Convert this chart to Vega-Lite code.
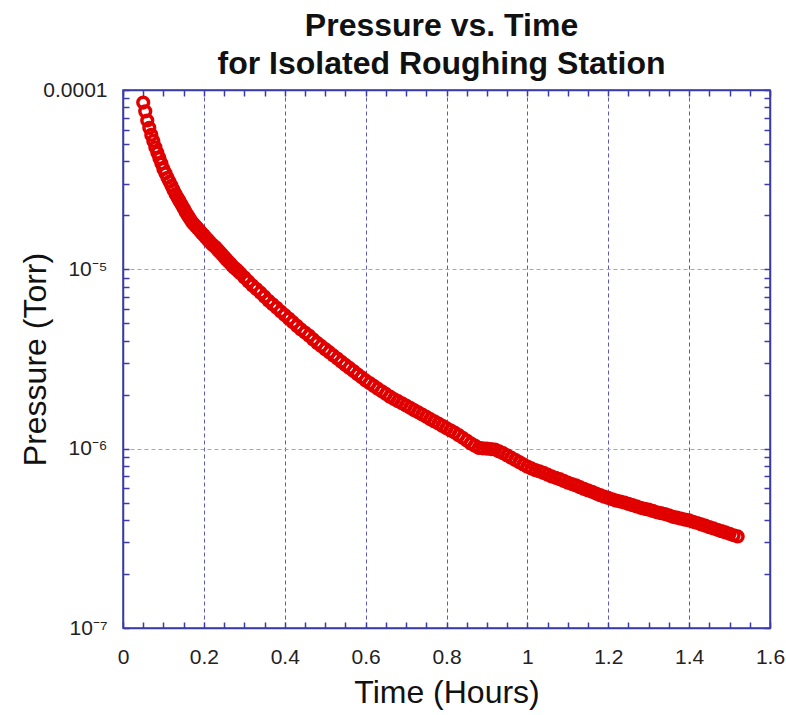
{
  "$schema": "https://vega.github.io/schema/vega-lite/v6.json",
  "width": 647,
  "height": 538,
  "autosize": {"type": "none"},
  "padding": {"left": 123, "top": 90, "right": 16, "bottom": 87},
  "background": "white",
  "config": {"view": {"stroke": "#3b3ba8", "strokeWidth": 1.5}, "font": "Liberation Sans"},
  "title": {
    "text": ["Pressure vs. Time", "for Isolated Roughing Station"],
    "font": "Liberation Sans Narrow, Liberation Sans",
    "fontSize": 32,
    "fontWeight": "bold",
    "color": "#111111",
    "anchor": "middle",
    "lineHeight": 38,
    "offset": -2,
    "dx": -5
  },
  "data": {"values": [
    {"t": 0.05, "p": 8.51e-5}, {"t": 0.055, "p": 7.6e-5}, {"t": 0.06, "p": 6.76e-5}, {"t": 0.065, "p": 6.15e-5},
    {"t": 0.07, "p": 5.62e-5}, {"t": 0.075, "p": 5.2e-5}, {"t": 0.08, "p": 4.79e-5}, {"t": 0.085, "p": 4.47e-5},
    {"t": 0.09, "p": 4.17e-5}, {"t": 0.095, "p": 3.89e-5}, {"t": 0.10, "p": 3.63e-5}, {"t": 0.105, "p": 3.43e-5},
    {"t": 0.11, "p": 3.24e-5}, {"t": 0.115, "p": 3.08e-5}, {"t": 0.12, "p": 2.92e-5}, {"t": 0.125, "p": 2.77e-5},
    {"t": 0.13, "p": 2.63e-5}, {"t": 0.135, "p": 2.51e-5}, {"t": 0.14, "p": 2.40e-5}, {"t": 0.145, "p": 2.29e-5},
    {"t": 0.15, "p": 2.19e-5}, {"t": 0.155, "p": 2.09e-5}, {"t": 0.16, "p": 2.00e-5}, {"t": 0.165, "p": 1.92e-5},
    {"t": 0.17, "p": 1.84e-5}, {"t": 0.175, "p": 1.79e-5}, {"t": 0.18, "p": 1.74e-5}, {"t": 0.185, "p": 1.69e-5},
    {"t": 0.19, "p": 1.64e-5}, {"t": 0.195, "p": 1.59e-5}, {"t": 0.20, "p": 1.55e-5}, {"t": 0.205, "p": 1.50e-5},
    {"t": 0.21, "p": 1.46e-5}, {"t": 0.215, "p": 1.42e-5}, {"t": 0.22, "p": 1.38e-5}, {"t": 0.225, "p": 1.35e-5},
    {"t": 0.23, "p": 1.32e-5}, {"t": 0.235, "p": 1.28e-5}, {"t": 0.24, "p": 1.245e-5}, {"t": 0.245, "p": 1.21e-5},
    {"t": 0.25, "p": 1.175e-5}, {"t": 0.255, "p": 1.14e-5}, {"t": 0.26, "p": 1.109e-5}, {"t": 0.265, "p": 1.08e-5},
    {"t": 0.27, "p": 1.047e-5}, {"t": 0.275, "p": 1.02e-5}, {"t": 0.28, "p": 1.00e-5}, {"t": 0.285, "p": 9.75e-6},
    {"t": 0.29, "p": 9.5e-6}, {"t": 0.30, "p": 9.02e-6}, {"t": 0.31, "p": 8.56e-6}, {"t": 0.32, "p": 8.13e-6},
    {"t": 0.33, "p": 7.76e-6}, {"t": 0.34, "p": 7.41e-6}, {"t": 0.35, "p": 7.04e-6}, {"t": 0.36, "p": 6.68e-6},
    {"t": 0.37, "p": 6.38e-6}, {"t": 0.38, "p": 6.10e-6}, {"t": 0.39, "p": 5.82e-6}, {"t": 0.40, "p": 5.56e-6},
    {"t": 0.41, "p": 5.31e-6}, {"t": 0.42, "p": 5.07e-6}, {"t": 0.43, "p": 4.84e-6}, {"t": 0.44, "p": 4.62e-6},
    {"t": 0.45, "p": 4.44e-6}, {"t": 0.46, "p": 4.27e-6}, {"t": 0.47, "p": 4.07e-6}, {"t": 0.48, "p": 3.89e-6},
    {"t": 0.49, "p": 3.74e-6}, {"t": 0.50, "p": 3.59e-6}, {"t": 0.51, "p": 3.45e-6}, {"t": 0.52, "p": 3.31e-6},
    {"t": 0.53, "p": 3.18e-6}, {"t": 0.54, "p": 3.05e-6}, {"t": 0.55, "p": 2.93e-6}, {"t": 0.56, "p": 2.82e-6},
    {"t": 0.57, "p": 2.71e-6}, {"t": 0.58, "p": 2.60e-6}, {"t": 0.59, "p": 2.50e-6}, {"t": 0.60, "p": 2.40e-6},
    {"t": 0.61, "p": 2.32e-6}, {"t": 0.62, "p": 2.24e-6}, {"t": 0.63, "p": 2.16e-6}, {"t": 0.64, "p": 2.09e-6},
    {"t": 0.65, "p": 2.02e-6}, {"t": 0.66, "p": 1.95e-6}, {"t": 0.67, "p": 1.89e-6}, {"t": 0.68, "p": 1.84e-6},
    {"t": 0.69, "p": 1.79e-6}, {"t": 0.70, "p": 1.74e-6}, {"t": 0.71, "p": 1.69e-6}, {"t": 0.72, "p": 1.64e-6},
    {"t": 0.73, "p": 1.595e-6}, {"t": 0.74, "p": 1.55e-6}, {"t": 0.75, "p": 1.505e-6}, {"t": 0.76, "p": 1.46e-6},
    {"t": 0.77, "p": 1.42e-6}, {"t": 0.78, "p": 1.38e-6}, {"t": 0.79, "p": 1.34e-6}, {"t": 0.80, "p": 1.30e-6},
    {"t": 0.81, "p": 1.265e-6}, {"t": 0.82, "p": 1.23e-6}, {"t": 0.83, "p": 1.19e-6}, {"t": 0.84, "p": 1.15e-6},
    {"t": 0.85, "p": 1.11e-6}, {"t": 0.86, "p": 1.07e-6}, {"t": 0.87, "p": 1.04e-6}, {"t": 0.88, "p": 1.01e-6},
    {"t": 0.89, "p": 1.005e-6}, {"t": 0.90, "p": 1.00e-6}, {"t": 0.91, "p": 9.95e-7}, {"t": 0.92, "p": 9.89e-7},
    {"t": 0.93, "p": 9.66e-7}, {"t": 0.94, "p": 9.44e-7}, {"t": 0.95, "p": 9.17e-7}, {"t": 0.96, "p": 8.91e-7},
    {"t": 0.97, "p": 8.66e-7}, {"t": 0.98, "p": 8.41e-7}, {"t": 0.99, "p": 8.17e-7}, {"t": 1.00, "p": 7.94e-7},
    {"t": 1.01, "p": 7.76e-7}, {"t": 1.02, "p": 7.59e-7}, {"t": 1.03, "p": 7.46e-7}, {"t": 1.04, "p": 7.33e-7},
    {"t": 1.05, "p": 7.16e-7}, {"t": 1.06, "p": 7.00e-7}, {"t": 1.07, "p": 6.88e-7}, {"t": 1.08, "p": 6.76e-7},
    {"t": 1.09, "p": 6.61e-7}, {"t": 1.10, "p": 6.46e-7}, {"t": 1.11, "p": 6.35e-7}, {"t": 1.12, "p": 6.24e-7},
    {"t": 1.13, "p": 6.10e-7}, {"t": 1.14, "p": 5.96e-7}, {"t": 1.15, "p": 5.85e-7}, {"t": 1.16, "p": 5.75e-7},
    {"t": 1.17, "p": 5.62e-7}, {"t": 1.18, "p": 5.50e-7}, {"t": 1.19, "p": 5.40e-7}, {"t": 1.20, "p": 5.31e-7},
    {"t": 1.21, "p": 5.22e-7}, {"t": 1.22, "p": 5.13e-7}, {"t": 1.23, "p": 5.07e-7}, {"t": 1.24, "p": 5.01e-7},
    {"t": 1.25, "p": 4.92e-7}, {"t": 1.26, "p": 4.84e-7}, {"t": 1.27, "p": 4.76e-7}, {"t": 1.28, "p": 4.68e-7},
    {"t": 1.29, "p": 4.62e-7}, {"t": 1.30, "p": 4.57e-7}, {"t": 1.31, "p": 4.50e-7}, {"t": 1.32, "p": 4.42e-7},
    {"t": 1.33, "p": 4.37e-7}, {"t": 1.34, "p": 4.32e-7}, {"t": 1.35, "p": 4.25e-7}, {"t": 1.36, "p": 4.17e-7},
    {"t": 1.37, "p": 4.12e-7}, {"t": 1.38, "p": 4.07e-7}, {"t": 1.39, "p": 4.02e-7}, {"t": 1.40, "p": 3.98e-7},
    {"t": 1.41, "p": 3.91e-7}, {"t": 1.42, "p": 3.85e-7}, {"t": 1.43, "p": 3.78e-7}, {"t": 1.44, "p": 3.72e-7},
    {"t": 1.45, "p": 3.65e-7}, {"t": 1.46, "p": 3.59e-7}, {"t": 1.47, "p": 3.53e-7}, {"t": 1.48, "p": 3.47e-7},
    {"t": 1.49, "p": 3.41e-7}, {"t": 1.50, "p": 3.35e-7}, {"t": 1.51, "p": 3.29e-7}, {"t": 1.52, "p": 3.24e-7}
  ]},
  "layer": [
    {
      "mark": {"type": "point", "filled": false, "color": "#e00000", "size": 115, "strokeWidth": 3.5, "opacity": 1},
      "encoding": {
        "x": {
          "field": "t", "type": "quantitative",
          "scale": {"domain": [0, 1.6], "nice": false, "zero": false},
          "axis": {
            "orient": "bottom",
            "values": [0, 0.05, 0.1, 0.15, 0.2, 0.25, 0.3, 0.35, 0.4, 0.45, 0.5, 0.55, 0.6, 0.65, 0.7, 0.75, 0.8, 0.85, 0.9, 0.95, 1, 1.05, 1.1, 1.15, 1.2, 1.25, 1.3, 1.35, 1.4, 1.45, 1.5, 1.55, 1.6],
            "labelExpr": "abs(datum.value*5-round(datum.value*5))<0.001 ? format(datum.value, '~g') : ''",
            "labelFontSize": 21, "labelColor": "#222222", "labelPadding": 24, "labelFlush": false,
            "grid": true, "gridColor": "#5a5ab8", "gridDash": [4, 3], "gridWidth": 1,
            "gridOpacity": {"condition": {"test": "abs(datum.value*5-round(datum.value*5))<0.001 && datum.value>0.01 && datum.value<1.59", "value": 1}, "value": 0},
            "ticks": true, "tickSize": -6, "tickColor": "#3b3ba8", "tickWidth": 1.5,
            "domainColor": "#3b3ba8", "domainWidth": 1.5,
            "title": "Time (Hours)", "titleFontSize": 32, "titleFontWeight": "normal", "titleColor": "#111111",
            "titleBaseline": "alphabetic", "titleY": 74
          }
        },
        "y": {
          "field": "p", "type": "quantitative",
          "scale": {"type": "log", "domain": [1e-7, 1e-4], "nice": false},
          "axis": {
            "orient": "left",
            "values": [1e-7, 2e-7, 3e-7, 4e-7, 5e-7, 6e-7, 7e-7, 8e-7, 9e-7, 1e-6, 2e-6, 3e-6, 4e-6, 5e-6, 6e-6, 7e-6, 8e-6, 9e-6, 1e-5, 2e-5, 3e-5, 4e-5, 5e-5, 6e-5, 7e-5, 8e-5, 9e-5, 1e-4],
            "labelExpr": "abs(datum.value-1e-4)<1e-9 ? '0.0001' : abs(datum.value-1e-5)<1e-10 ? '10⁻⁵' : abs(datum.value-1e-6)<1e-11 ? '10⁻⁶' : abs(datum.value-1e-7)<1e-12 ? '10⁻⁷' : ''",
            "labelFontSize": 21, "labelColor": "#222222", "labelPadding": 22, "labelFlush": false,
            "grid": true, "gridColor": "#a0a0e0", "gridDash": [4, 3], "gridWidth": 1,
            "gridOpacity": {"condition": {"test": "abs(datum.value-1e-5)<1e-10 || abs(datum.value-1e-6)<1e-11", "value": 1}, "value": 0},
            "ticks": true, "tickSize": -6, "tickColor": "#3b3ba8", "tickWidth": 1.5,
            "domainColor": "#3b3ba8", "domainWidth": 1.5,
            "title": "Pressure (Torr)", "titleFontSize": 32, "titleFontWeight": "normal", "titleColor": "#111111",
            "titleBaseline": "alphabetic", "titleX": -78
          }
        }
      }
    },
    {
      "mark": {"type": "point", "opacity": 0},
      "encoding": {
        "x": {
          "field": "t", "type": "quantitative",
          "scale": {"domain": [0, 1.6], "nice": false, "zero": false},
          "axis": {
            "orient": "top", "title": null, "labels": false, "grid": false,
            "values": [0, 0.05, 0.1, 0.15, 0.2, 0.25, 0.3, 0.35, 0.4, 0.45, 0.5, 0.55, 0.6, 0.65, 0.7, 0.75, 0.8, 0.85, 0.9, 0.95, 1, 1.05, 1.1, 1.15, 1.2, 1.25, 1.3, 1.35, 1.4, 1.45, 1.5, 1.55, 1.6],
            "tickSize": -6, "tickColor": "#3b3ba8", "tickWidth": 1.5, "domainColor": "#3b3ba8", "domainWidth": 1.5
          }
        },
        "y": {
          "field": "p", "type": "quantitative",
          "scale": {"type": "log", "domain": [1e-7, 1e-4], "nice": false},
          "axis": {
            "orient": "right", "title": null, "labels": false, "grid": false,
            "values": [1e-7, 2e-7, 3e-7, 4e-7, 5e-7, 6e-7, 7e-7, 8e-7, 9e-7, 1e-6, 2e-6, 3e-6, 4e-6, 5e-6, 6e-6, 7e-6, 8e-6, 9e-6, 1e-5, 2e-5, 3e-5, 4e-5, 5e-5, 6e-5, 7e-5, 8e-5, 9e-5, 1e-4],
            "tickSize": -6, "tickColor": "#3b3ba8", "tickWidth": 1.5, "domainColor": "#3b3ba8", "domainWidth": 1.5
          }
        }
      }
    }
  ],
  "resolve": {"axis": {"x": "independent", "y": "independent"}}
}
